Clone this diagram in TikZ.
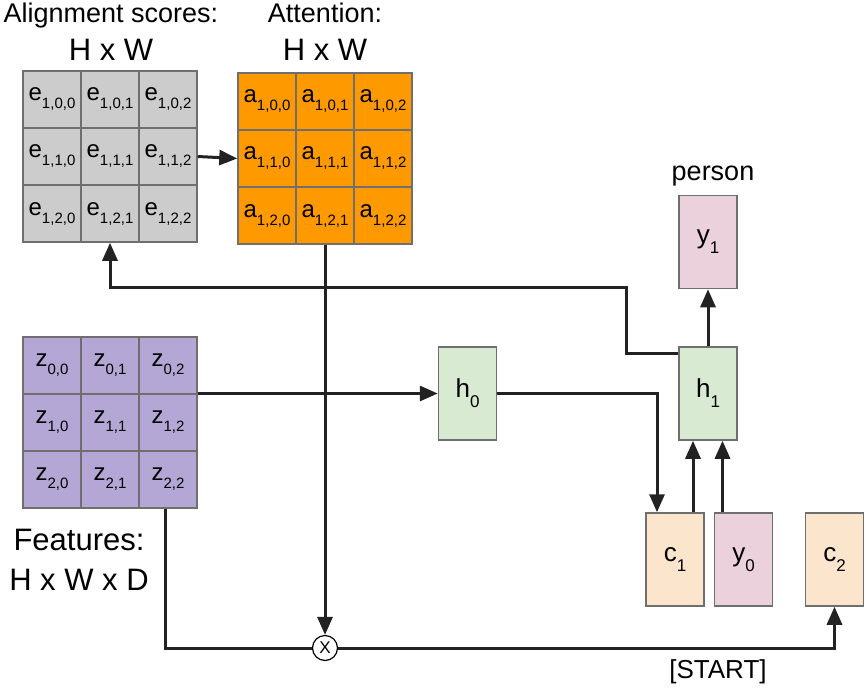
\documentclass[tikz,border=0pt]{standalone}
\usepackage{fontspec}
\setmainfont{Liberation Sans}
\usetikzlibrary{arrows.meta,positioning}
\definecolor{egray}{HTML}{CCCCCC}
\definecolor{aorange}{HTML}{FF9900}
\definecolor{zpurple}{HTML}{B4A7D6}
\definecolor{hgreen}{HTML}{D9EAD3}
\definecolor{ypink}{HTML}{EAD1DC}
\definecolor{cpeach}{HTML}{FCE5CD}
\definecolor{edgegray}{HTML}{6F6F6F}
\definecolor{linegray}{HTML}{222222}
\newcommand{\vsub}[2]{#1\raisebox{-8pt}{\fontsize{15}{15}\selectfont#2}}
\newcommand{\bsub}[2]{#1\raisebox{-10pt}{\fontsize{17}{17}\selectfont#2}}

\begin{document}
\begin{tikzpicture}[x=1pt,y=1pt,
  cell/.style={draw=edgegray,line width=1.5pt,minimum width=58pt,minimum height=57pt,inner sep=0pt,font=\fontsize{24}{28}\selectfont},
  vec/.style={draw=edgegray,line width=1.5pt,minimum width=58pt,minimum height=93pt,inner sep=0pt,font=\fontsize{26}{28}\selectfont},
  title/.style={font=\fontsize{27}{30}\selectfont,anchor=base},
  size/.style={font=\fontsize{31}{34}\selectfont,anchor=base},
  arr/.style={-{Triangle[length=18pt,width=15pt]},line width=3pt,draw=linegray},
  wire/.style={line width=3pt,draw=linegray}]
\useasboundingbox (0,0) rectangle (867,-688);
% grids
\foreach \r in {0,1,2}{
  \foreach \c in {0,1,2}{
    \node[cell,fill=egray] (e-\r-\c) at (52+58*\c,-99.5-57*\r) {\vsub{e}{1,\r,\c}};
    \node[cell,fill=aorange] (a-\r-\c) at (267+58*\c,-101.5-57*\r) {\vsub{a}{1,\r,\c}};
    \node[cell,fill=zpurple] (z-\r-\c) at (52+58*\c,-365.5-57*\r) {\vsub{z}{\r,\c}};
  }
}
\node[title] (etitle) at (111,-22) {Alignment scores:};
\node[size] (esize) at (111,-60) {H x W};
\node[title] (atitle) at (325,-22) {Attention:};
\node[size] (asize) at (325,-60) {H x W};
\node[size] (ztitle) at (79,-550) {Features:};
\node[size] (zsize) at (79,-590) {H x W x D};
% decoder
\node[vec,fill=hgreen] (h0) at (467.5,-393.5) {\bsub{h}{0}};
\node[vec,fill=hgreen] (h1) at (708,-393.5) {\bsub{h}{1}};
\node[vec,fill=ypink] (y1) at (708,-242) {\bsub{y}{1}};
\node[title] (person) at (713,-180) {person};
\node[vec,fill=cpeach] (c1) at (675,-559.5) {\bsub{c}{1}};
\node[vec,fill=ypink,right=9pt of c1] (y0) {\bsub{y}{0}};
\node[vec,fill=cpeach] (c2) at (834.5,-559.5) {\bsub{c}{2}};
\node[circle,draw=black,fill=white,line width=1.2pt,minimum size=25pt,inner sep=0pt,font=\fontsize{17}{17}\selectfont] (mul) at (325,-648) {X};
\node[font=\fontsize{26}{28}\selectfont,anchor=base] (start) at (718,-678) {[START]};
\coordinate (back) at (626,-287);
% connectors
\draw[arr] (e-1-2.east) -- (a-1-0.west);
\draw[arr] (h0.west -| z-0-2.east) -- (h0.west);
\draw[arr] (h0.east) -| ([xshift=-18pt]c1.north);
\draw[arr] ([xshift=18pt]c1.north) -- ([xshift=18pt]c1.north |- h1.south);
\draw[arr] ([xshift=-21pt]y0.north) -- ([xshift=-21pt]y0.north |- h1.south);
\draw[arr] (h1.north) -- (y1.south);
\draw[arr] ([yshift=-7pt]h1.north west) -| (back) -| (e-2-1.south);
\draw[arr] (a-2-1.south) -- (mul.north);
\draw[wire] ([xshift=-3pt]z-2-2.south) |- (mul.west);
\draw[arr] (mul.east) -| (c2.south);
\end{tikzpicture}
\end{document}
